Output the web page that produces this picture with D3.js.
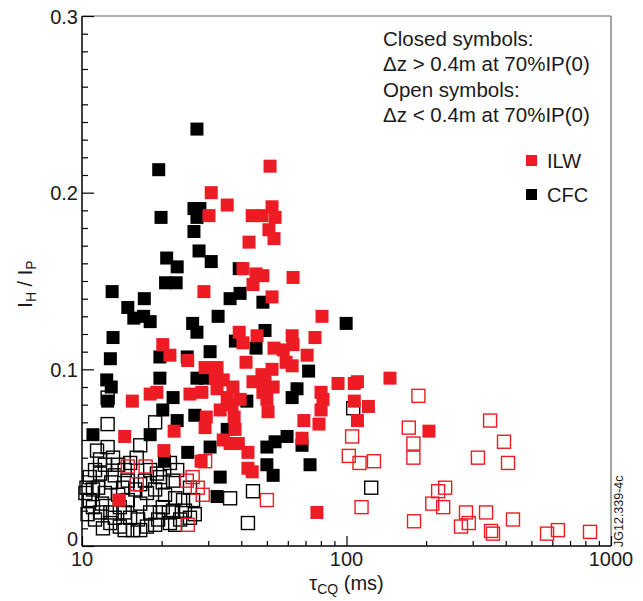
<!DOCTYPE html>
<html>
<head>
    <title>IH/IP vs tau CQ</title>
    <script src="https://d3js.org/d3.v7.min.js"></script>
    <style>
        body {
            margin: 0;
            background-color: white;
        }
        svg text {
            font-family: "Liberation Sans", Arial, sans-serif;
            fill: #1a1a1a;
        }
    </style>
</head>
<body>
<div id="chart"></div>
<script>
    // [tau_CQ (ms), I_H / I_P]
    const ilwClosed = [
        [51.4,0.215],[30.8,0.200],[35.4,0.193],[30.2,0.187],[44.0,0.187],[47.9,0.187],[52.3,0.192],[53.7,0.186],
        [50.9,0.179],[53.2,0.174],[42.8,0.172],[45.5,0.154],[48.3,0.153],[40.6,0.157],[44.3,0.148],[28.9,0.144],
        [52.3,0.141],[39.3,0.121],[40.6,0.115],[45.9,0.119],[20.2,0.114],[21.5,0.108],[25.1,0.105],[53.2,0.112],
        [41.7,0.104],[29.2,0.101],[32.4,0.101],[31.9,0.095],[34.2,0.094],[32.4,0.089],[37.2,0.090],[44.3,0.093],
        [47.9,0.097],[52.3,0.100],[52.8,0.090],[48.3,0.087],[18.1,0.086],[19.2,0.087],[25.6,0.086],[28.4,0.087],
        [15.5,0.082],[35.4,0.084],[39.6,0.083],[36.9,0.080],[33.3,0.077],[50.0,0.083],[50.5,0.076],[37.6,0.073],
        [29.5,0.073],[29.2,0.067],[37.9,0.066],[22.3,0.065],[14.5,0.062],[34.2,0.060],[36.3,0.058],[39.0,0.058],
        [42.4,0.053],[20.4,0.054],[28.2,0.048],[42.4,0.044],[44.0,0.042],[13.8,0.026],[80.8,0.130],[62.3,0.119],
        [76.0,0.118],[57.6,0.111],[62.8,0.114],[71.0,0.108],[59.1,0.104],[62.3,0.102],[49.2,0.093],[92.9,0.092],
        [80.1,0.087],[81.5,0.083],[80.1,0.077],[107,0.092],[110,0.093],[146,0.095],[107,0.082],[121,0.079],
        [110,0.071],[69.0,0.071],[78.7,0.069],[67.9,0.061],[205,0.065],[77.3,0.019],[62.8,0.152]
    ];
    const ilwOpen = [
        [14.9,0.045],[17.4,0.045],[16.1,0.035],[24.9,0.037],[26.2,0.039],[27.4,0.033],[28.6,0.029],[29.2,0.048],
        [50.0,0.026],[25.1,0.012],[187,0.085],[172,0.067],[179,0.058],[179,0.050],[105,0.062],[102,0.051],
        [112,0.047],[127,0.048],[114,0.022],[180,0.014],[211,0.024],[222,0.031],[236,0.033],[232,0.022],
        [349,0.071],[394,0.059],[314,0.050],[408,0.047],[283,0.019],[271,0.011],[290,0.013],[337,0.019],
        [352,0.0085],[358,0.007],[426,0.015],[573,0.007],[630,0.009],[833,0.008]
    ];
    const cfcClosed = [
        [27.2,0.236],[19.5,0.213],[26.5,0.191],[27.9,0.191],[27.2,0.186],[26.5,0.178],[19.9,0.186],[27.7,0.167],
        [20.9,0.163],[22.9,0.158],[30.8,0.161],[39.3,0.157],[20.7,0.149],[22.7,0.149],[13.0,0.144],[17.2,0.140],
        [39.6,0.143],[36.3,0.140],[14.9,0.135],[15.7,0.129],[17.1,0.130],[18.1,0.127],[26.2,0.126],[27.2,0.121],
        [32.7,0.130],[13.1,0.118],[49.2,0.122],[38.0,0.116],[45.5,0.112],[12.8,0.106],[19.7,0.107],[25.0,0.107],
        [30.5,0.110],[12.4,0.094],[12.9,0.090],[19.7,0.095],[27.2,0.095],[29.2,0.095],[22.1,0.084],[12.5,0.082],
        [42.0,0.082],[20.2,0.077],[22.9,0.071],[26.7,0.074],[35.4,0.066],[11.0,0.063],[18.1,0.063],[50.0,0.056],
        [53.7,0.059],[30.5,0.056],[25.1,0.053],[20.5,0.048],[50.0,0.046],[52.8,0.040],[33.3,0.039],[32.4,0.028],
        [48.3,0.138],[99.7,0.126],[71.9,0.099],[65.0,0.089],[62.3,0.084],[67.9,0.057],[59.6,0.062],[72.8,0.046]
    ];
    const cfcOpen = [
        [12.5,0.084],[12.5,0.069],[18.9,0.070],[16.6,0.057],[11.4,0.054],[12.5,0.056],[13.1,0.050],[10.7,0.039],
        [10.4,0.033],[11.7,0.041],[12.2,0.030],[11.0,0.022],[12.8,0.019],[15.2,0.047],[16.1,0.050],[19.2,0.041],
        [17.6,0.030],[16.6,0.024],[18.1,0.019],[20.2,0.022],[22.1,0.020],[23.5,0.015],[21.5,0.013],[20.2,0.036],
        [22.1,0.037],[24.1,0.026],[17.6,0.011],[15.6,0.009],[13.9,0.011],[12.8,0.013],[11.7,0.019],[10.7,0.026],
        [36.3,0.027],[44.3,0.031],[42.4,0.013],[26.3,0.026],[25.6,0.033],[19.7,0.019],[21.5,0.047],[22.9,0.043],
        [14.3,0.033],[13.9,0.022],[15.2,0.016],[11.5,0.033],[10.3,0.030],[124,0.033],[106,0.078],[11.2,0.043],
        [13.3,0.040],[14.5,0.043],[12.2,0.046],[13.7,0.029],[14.9,0.026],[15.9,0.032],[17.3,0.037],[18.9,0.032],
        [20.6,0.029],[11.2,0.015],[12.0,0.010],[14.5,0.019],[16.3,0.015],[18.9,0.012],[22.5,0.027],[24.5,0.020],
        [26.7,0.018],[11.7,0.049],[13.7,0.046],[12.9,0.036],[11.0,0.032],[11.9,0.024],[13.3,0.016],[14.9,0.037],
        [16.6,0.035],[18.1,0.043],[19.7,0.039],[21.3,0.019],[19.4,0.015],[25.6,0.016],[14.5,0.009],[10.5,0.018],
        [16.6,0.009],[22.5,0.012]
    ];

    const xMajorTicks = [10, 100, 1000];
    const xMinorTicks = [20, 30, 40, 50, 60, 70, 80, 90, 200, 300, 400, 500, 600, 700, 800, 900];
    const yMajorTicks = [0, 0.1, 0.2, 0.3];
    const yMinorTicks = d3.range(1, 30).filter(i => i % 10 !== 0).map(i => i / 100);

    const notes = ["Closed symbols:", "\u0394z > 0.4m at 70%IP(0)", "Open symbols:", "\u0394z < 0.4m at 70%IP(0)"];
    const legendItems = [{ label: "ILW", color: "#ed1c24" }, { label: "CFC", color: "#000000" }];

    const red = "#ed1c24";
    const width = 643;
    const height = 601;
    const margin = { top: 16, right: 32, bottom: 55, left: 82 };
    const size = 13; // marker side

    const svg = d3.select("#chart")
        .append("svg")
        .attr("width", width)
        .attr("height", height);

    const x = d3.scaleLog()
        .domain([10, 1000])
        .range([margin.left, width - margin.right]);

    const y = d3.scaleLinear()
        .domain([0, 0.3])
        .range([height - margin.bottom, margin.top]);

    // frame: top and right grey
    svg.append("line")
        .attr("x1", margin.left).attr("x2", width - margin.right)
        .attr("y1", margin.top).attr("y2", margin.top)
        .attr("stroke", "#666").attr("stroke-width", 1.2);
    svg.append("line")
        .attr("x1", width - margin.right).attr("x2", width - margin.right)
        .attr("y1", margin.top).attr("y2", height - margin.bottom)
        .attr("stroke", "#666").attr("stroke-width", 1.2);

    // points
    function drawSquares(data, fill, stroke) {
        svg.append("g")
            .selectAll("rect")
            .data(data)
            .enter()
            .append("rect")
            .attr("x", d => x(d[0]) - size / 2)
            .attr("y", d => y(d[1]) - size / 2)
            .attr("width", size)
            .attr("height", size)
            .attr("fill", fill)
            .attr("stroke", stroke)
            .attr("stroke-width", stroke === "none" ? 0 : 1.4);
    }
    drawSquares(cfcOpen, "none", "#000");
    drawSquares(cfcClosed, "#000", "none");
    drawSquares(ilwOpen, "none", red);
    drawSquares(ilwClosed, red, "none");

    // x axis (ticks point inward)
    const xAxis = svg.append("g")
        .attr("transform", `translate(0,${height - margin.bottom})`);
    xAxis.call(d3.axisTop(x).tickValues(xMajorTicks).tickSize(10).tickFormat(""));
    xAxis.append("g").call(d3.axisTop(x).tickValues(xMinorTicks).tickSize(5).tickFormat(""));
    xAxis.selectAll(".domain").remove();
    xAxis.selectAll("line").attr("stroke", "#000").attr("stroke-width", 1.2);
    xAxis.selectAll(".tick text").remove();

    xMajorTicks.forEach(t => {
        svg.append("text")
            .attr("x", x(t))
            .attr("y", height - margin.bottom + 20)
            .attr("text-anchor", "middle")
            .style("font-size", "20px")
            .text(t);
    });

    // y axis
    const yAxis = svg.append("g")
        .attr("transform", `translate(${margin.left},0)`);
    yAxis.call(d3.axisRight(y).tickValues(yMajorTicks).tickSize(12).tickFormat(""));
    yAxis.append("g").call(d3.axisRight(y).tickValues(yMinorTicks).tickSize(6).tickFormat(""));
    yAxis.selectAll(".domain").remove();
    yAxis.selectAll("line").attr("stroke", "#000").attr("stroke-width", 1.2);

    yMajorTicks.forEach(t => {
        svg.append("text")
            .attr("x", margin.left - 4)
            .attr("y", t === 0 ? y(t) : y(t) + 7.5)
            .attr("text-anchor", "end")
            .style("font-size", "20px")
            .text(t === 0 ? "0" : d3.format(".1f")(t));
    });

    // left and bottom axis lines
    svg.append("line")
        .attr("x1", margin.left).attr("x2", margin.left)
        .attr("y1", margin.top).attr("y2", height - margin.bottom)
        .attr("stroke", "#000").attr("stroke-width", 1.5);
    svg.append("line")
        .attr("x1", margin.left).attr("x2", width - margin.right)
        .attr("y1", height - margin.bottom).attr("y2", height - margin.bottom)
        .attr("stroke", "#000").attr("stroke-width", 1.5);

    // axis titles
    const xTitle = svg.append("text")
        .attr("x", (margin.left + width - margin.right) / 2)
        .attr("y", 590)
        .attr("text-anchor", "middle")
        .style("font-size", "20px");
    xTitle.append("tspan").text("\u03c4");
    xTitle.append("tspan").attr("baseline-shift", "-4").style("font-size", "14px").text("CQ");
    xTitle.append("tspan").text(" (ms)");

    const yTitle = svg.append("text")
        .attr("transform", `translate(32,284) rotate(-90)`)
        .attr("text-anchor", "middle")
        .style("font-size", "20px");
    yTitle.append("tspan").text("I");
    yTitle.append("tspan").attr("baseline-shift", "-4").style("font-size", "14px").text("H");
    yTitle.append("tspan").text(" / I");
    yTitle.append("tspan").attr("baseline-shift", "-4").style("font-size", "14px").text("P");

    // notes
    svg.append("g")
        .selectAll("text")
        .data(notes)
        .enter()
        .append("text")
        .attr("x", 383)
        .attr("y", (d, i) => 46 + i * 25.4)
        .style("font-size", "20.5px")
        .text(d => d);

    // legend
    const legend = svg.append("g")
        .selectAll("g")
        .data(legendItems)
        .enter()
        .append("g")
        .attr("transform", (d, i) => `translate(526,${155 + i * 34})`);
    legend.append("rect")
        .attr("width", 11)
        .attr("height", 11)
        .attr("fill", d => d.color);
    legend.append("text")
        .attr("x", 21)
        .attr("y", 13)
        .style("font-size", "20px")
        .text(d => d.label);

    // figure id
    svg.append("text")
        .attr("transform", "translate(623,547) rotate(-90)")
        .style("font-size", "12.5px")
        .text("JG12.339-4c");
</script>
</body>
</html>
